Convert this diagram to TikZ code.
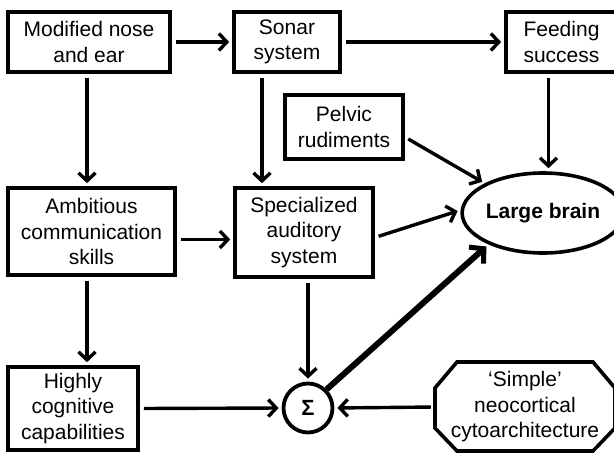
\documentclass[tikz,border=0pt]{standalone}
\usepackage{fontspec}
\setmainfont{Liberation Sans}
\usetikzlibrary{arrows.meta,calc,shapes.geometric}
\begin{document}
\begin{tikzpicture}[x=1pt,y=-1pt,
  txt/.style={align=center, font=\fontsize{21}{25.5}\selectfont, inner sep=0pt},
  box/.style={txt, draw, line width=3.6pt, rectangle},
  arr/.style={line width=3.4pt, -{Straight Barb[length=8pt,width=17pt,line width=3.4pt]}, shorten <=4pt, shorten >=3pt},
  bigarr/.style={line width=6pt, -{Straight Barb[length=10pt,width=22pt,line width=5pt]}, shorten <=0pt, shorten >=3pt}]
\useasboundingbox (0,0) rectangle (614,453);
% nodes
\node[box, minimum width=162pt, minimum height=60pt] (mod) at (89,42) {Modified nose\\and ear};
\node[box, minimum width=106pt, minimum height=60pt] (sonar) at (287,42) {Sonar\\system};
\node[box, minimum width=111pt, minimum height=60pt] (feed) at (561.5,42) {Feeding\\success};
\node[box, minimum width=118pt, minimum height=64pt] (pelvic) at (344,127) {Pelvic\\rudiments};
\node[box, minimum width=167pt, minimum height=87pt] (amb) at (91.5,231.5) {Ambitious\\communication\\skills};
\node[box, minimum width=138pt, minimum height=89pt] (spec) at (304,232.5) {Specialized\\auditory\\system};
\node[box, minimum width=130pt, minimum height=83pt] (high) at (73,408.5) {Highly\\cognitive\\capabilities};
\node[draw, circle, line width=3.8pt, minimum size=49pt, inner sep=0pt, font=\fontsize{22}{24}\selectfont\bfseries] (sigma) at (308,408) {Σ};
\node[draw, ellipse, line width=3.6pt, minimum width=140pt, minimum height=80pt, inner sep=0pt, font=\fontsize{21}{25}\selectfont\bfseries] (brain) at (543,213) {Large brain};
\node[txt, minimum width=180pt, minimum height=90pt] (oct) at (525,407) {`Simple'\\neocortical\\cytoarchitecture};
\draw[line width=3.6pt, line join=miter] (457,362) -- (593,362) -- (615,388) -- (615,428) -- (593,451) -- (457,451) -- (435,428) -- (435,388) -- cycle;
% connectors
\coordinate (a1) at ($(amb.east)+(0,8)$);
\coordinate (s1) at ($(spec.east)+(0,5)$);
\coordinate (p1) at ($(pelvic.east)+(0,10)$);
\draw[arr] (mod.east) -- (sonar.west);
\draw[arr] (sonar.east) -- (feed.west);
\draw[arr] ([xshift=-2pt]mod.south) -- ([xshift=-2pt]mod.south |- amb.north);
\draw[arr] ([xshift=-25pt]sonar.south) -- ([xshift=-25pt]sonar.south |- spec.north);
\draw[arr] (a1) -- (a1 -| spec.west);
\draw[arr] ([xshift=-2pt]mod.south |- amb.south) -- ([xshift=-2pt]mod.south |- high.north);
\draw[arr] (sigma.north |- spec.south) -- (sigma.north);
\draw[arr] (high.east) -- (sigma.west);
\draw[arr] (oct.west) -- (sigma.east);
\draw[arr] ([xshift=-13pt]feed.south) -- ([xshift=-13pt]feed.south |- brain.north);
\draw[arr] (p1) -- (brain.153);
\draw[arr] (s1) -- (brain.178);
\draw[bigarr] (sigma.45) -- (brain.210);
\end{tikzpicture}
\end{document}
